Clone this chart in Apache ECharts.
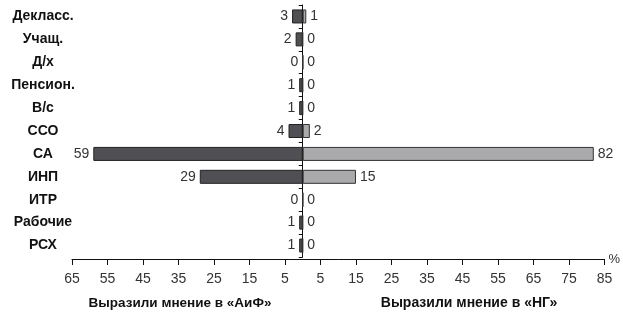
<!DOCTYPE html>
<html>
<head>
<meta charset="utf-8">
<script src="https://cdn.jsdelivr.net/npm/echarts@6/dist/echarts.min.js"></script>
<style>
  html, body { margin: 0; padding: 0; background: #fff; }
  #chart { width: 623px; height: 314px; }
</style>
</head>
<body>
<div id="chart"></div>
<script>
// категории сверху вниз
const categories = ["Декласс.", "Учащ.", "Д/х", "Пенсион.", "В/с", "ССО", "СА", "ИНП", "ИТР", "Рабочие", "РСХ"];
// «АиФ» (левая сторона) и «НГ» (правая), %
const aifValues = [3, 2, 0, 1, 1, 4, 59, 29, 0, 1, 1];
const ngValues = [1, 0, 0, 0, 0, 2, 82, 15, 0, 0, 0];
const leftTitle = "Выразили мнение в «АиФ»";
const rightTitle = "Выразили мнение в «НГ»";

const font = "Liberation Sans, Arial, sans-serif";
const myChart = echarts.init(document.getElementById("chart"));

const barLabel = {
  show: true,
  distance: 4,
  color: "#333",
  fontSize: 14,
  fontFamily: font,
};

let option = {
  animation: false,
  grid: { left: 72, right: 18, top: 5, bottom: 57 },
  xAxis: {
    type: "value",
    min: -65,
    max: 85,
    interval: 10,
    offset: 2,
    name: "%",
    nameLocation: "end",
    nameGap: 4,
    nameTextStyle: { color: "#333", fontSize: 13, fontFamily: font, verticalAlign: "middle", padding: [0, 0, 10, 0] },
    axisLine: { show: true, onZero: false, lineStyle: { color: "#111", width: 1 } },
    axisTick: { show: true, length: 6, lineStyle: { color: "#111" } },
    axisLabel: {
      color: "#333",
      fontSize: 14,
      fontFamily: font,
      margin: 13,
      formatter: (v) => Math.abs(v),
    },
    splitLine: { show: false },
  },
  yAxis: [
    {
      // центральная ось
      type: "category",
      inverse: true,
      data: categories,
      axisLine: { show: true, onZero: true, lineStyle: { color: "#111" } },
      axisTick: { show: true, length: 4, lineStyle: { color: "#111" } },
      axisLabel: { show: false },
    },
    {
      // подписи категорий слева
      type: "category",
      inverse: true,
      position: "left",
      data: categories,
      axisLine: { show: false, onZero: false },
      axisTick: { show: false },
      axisLabel: {
        align: "center",
        margin: 29,
        color: "#111",
        fontSize: 14,
        fontWeight: "bold",
        fontFamily: font,
      },
    },
  ],
  series: [
    {
      name: "АиФ",
      type: "bar",
      barWidth: 14,
      barGap: "-100%",
      data: aifValues.map((v) => -v),
      itemStyle: { color: "#505054", borderColor: "#222", borderWidth: 1 },
      label: { ...barLabel, position: "left", formatter: (p) => Math.abs(p.value) },
    },
    {
      name: "НГ",
      type: "bar",
      barWidth: 14,
      barGap: "-100%",
      data: ngValues,
      itemStyle: { color: "#aaaaac", borderColor: "#333", borderWidth: 1 },
      label: { ...barLabel, position: "right" },
    },
  ],
  graphic: [
    {
      type: "text",
      x: 180,
      y: 303,
      style: { text: leftTitle, fill: "#111", font: "bold 13.5px " + font, align: "center", verticalAlign: "middle" },
    },
    {
      type: "text",
      x: 469,
      y: 303,
      style: { text: rightTitle, fill: "#111", font: "bold 14px " + font, align: "center", verticalAlign: "middle" },
    },
  ],
};
myChart.setOption(option);
</script>
</body>
</html>
